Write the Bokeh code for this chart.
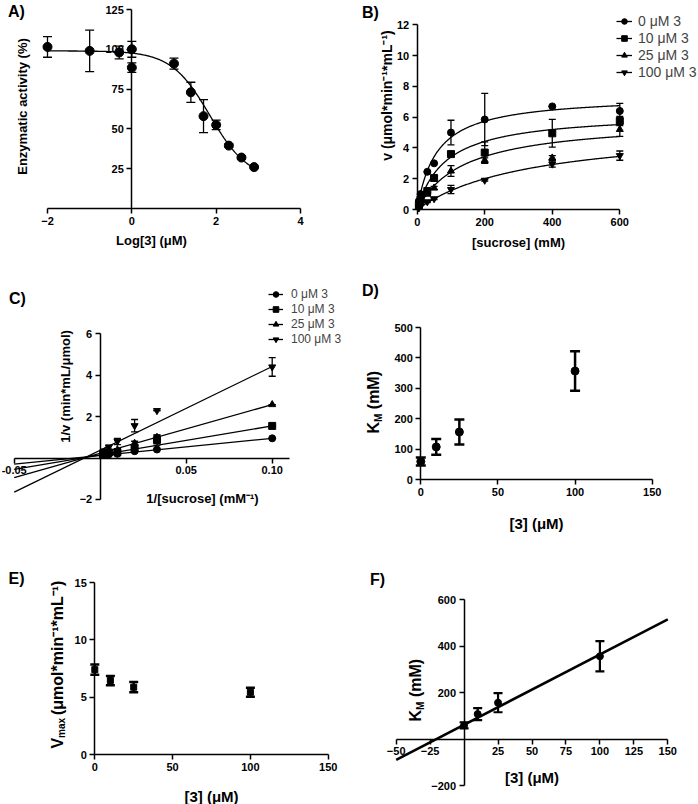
import math
import numpy as np
from bokeh.plotting import figure
from bokeh.models import (Range1d, FixedTicker, Label, Legend, LegendItem,
                          Whisker, TeeHead, ColumnDataSource)
from bokeh.layouts import gridplot
from bokeh.embed import file_html
from bokeh.resources import INLINE

FONT = "Liberation Sans"

# ---------------- data ----------------
# A) dose response
A_LOG_CONC = [-2, -1, -0.3, 0, 0, 1, 1.4, 1.7, 2, 2.3, 2.6, 2.9]
A_ACTIVITY = [101.5, 99, 98, 100, 88.5, 91, 73, 58, 52.5, 39.5, 32, 26]
A_ERR = [6.5, 13, 4, 5, 3, 3.5, 6.3, 10.4, 3, 1, 1, 0.5]
A_FIT_TOP = 99.0
A_FIT_BOTTOM = 18.0
A_FIT_LOGIC50 = 1.85
A_FIT_HILL = 0.95

SERIES_LABELS = ["0 μM 3", "10 μM 3", "25 μM 3", "100 μM 3"]
MARKERS = ["circle", "square", "triangle", "inverted_triangle"]

# B) Michaelis-Menten
B_SUCROSE = [5, 10, 30, 50, 100, 200, 400, 600]
B_V = [
    [0.55, 1.0, 2.45, 3.0, 5.0, 5.85, 6.7, 6.4],
    [0.3, 0.65, 1.2, 2.05, 3.6, 3.7, 4.95, 5.75],
    [0.2, 0.5, 1.0, 1.4, 2.5, 3.2, 3.35, 5.2],
    [0.1, 0.25, 0.5, 0.7, 1.3, 1.9, 2.95, 3.5],
]
B_ERR = [
    [0.05, 0.1, 0.0, 0.0, 0.8, 1.7, 0.0, 0.5],
    [0.0, 0.0, 0.1, 0.1, 0.0, 0.7, 0.9, 0.3],
    [0.0, 0.0, 0.1, 0.1, 0.35, 0.15, 0.15, 0.45],
    [0.0, 0.0, 0.05, 0.05, 0.27, 0.05, 0.2, 0.3],
]
B_FIT_VMAX = [7.4, 6.3, 5.85, 5.41]
B_FIT_KM = [58, 85, 140, 341]

# C) Lineweaver-Burk
C_INV_SUCROSE = [0.0017, 0.0025, 0.005, 0.01, 0.02, 0.033, 0.1]
C_INV_V = [
    [0.16, 0.15, 0.17, 0.2, 0.33, 0.41, 0.95],
    [0.17, 0.2, 0.27, 0.28, 0.49, 0.87, 1.55],
    [0.19, 0.3, 0.31, 0.4, 0.71, 1.0, 2.58],
    [0.29, 0.34, 0.52, 0.8, 1.56, 2.29, 4.4],
]
C_ERR = [
    [0, 0, 0, 0, 0, 0, 0],
    [0, 0, 0, 0, 0, 0.25, 0],
    [0, 0, 0, 0.05, 0.1, 0.1, 0],
    [0, 0, 0.1, 0.15, 0.3, 0, 0.45],
]
C_FIT_X = [-0.05, 0.10]
C_FIT_Y = [[-0.30, 0.95], [-0.55, 1.55], [-0.95, 2.58], [-1.65, 4.42]]

# D/E/F) kinetic constants
INHIBITOR = [0, 10, 25, 100]
KM = [60, 108, 157, 357]
KM_ERR = [13, 26, 41, 65]
VMAX = [7.4, 6.45, 5.87, 5.43]
VMAX_ERR = [0.45, 0.4, 0.45, 0.4]
F_FIT_X = [-50, 150]
F_FIT_Y = [-89, 516]


# ---------------- helpers ----------------
class Geo:
    """Maps global page pixels to the data space of one panel."""
    def __init__(self, ox, oy, w, h, xa, xav, xb, xbv, ya, yav, yb, ybv):
        self.ox, self.oy, self.w, self.h = ox, oy, w, h
        self.xppu = (xb - xa) / (xbv - xav)
        self.yppu = (ya - yb) / (ybv - yav)
        self.x0 = xav - (xa - ox) / self.xppu
        self.y1 = yav + (ya - oy) / self.yppu

    def X(self, px):
        return self.x0 + (px - self.ox) / self.xppu

    def Y(self, py):
        return self.y1 - (py - self.oy) / self.yppu


def make_fig(g):
    p = figure(width=g.w, height=g.h,
               x_range=Range1d(g.X(g.ox), g.X(g.ox + g.w)),
               y_range=Range1d(g.Y(g.oy + g.h), g.Y(g.oy)),
               output_backend="svg", toolbar_location=None, min_border=0)
    p.outline_line_color = None
    p.xgrid.visible = False
    p.ygrid.visible = False
    p.background_fill_color = "white"
    p.border_fill_color = "white"
    return p


def style_axis(ax, ticks, bounds, loc, overrides=None, lw=1.5, fs=11):
    ax.fixed_location = loc
    ax.ticker = FixedTicker(ticks=ticks)
    ax.bounds = bounds
    ax.axis_line_width = lw
    ax.axis_line_color = "black"
    ax.major_tick_line_width = lw
    ax.major_tick_line_color = "black"
    ax.major_tick_out = 5
    ax.major_tick_in = 0
    ax.minor_tick_line_color = None
    ax.major_label_text_font = FONT
    ax.major_label_text_font_style = "bold"
    ax.major_label_text_font_size = f"{fs}px"
    ax.major_label_text_color = "black"
    ax.major_label_standoff = 3
    if overrides:
        ax.major_label_overrides = overrides


def txt(p, g, gx, gy, text, size, bold=True, angle=0.0, align="center",
        baseline="middle"):
    p.add_layout(Label(x=g.X(gx), y=g.Y(gy), text=text, text_font=FONT,
                       text_font_size=f"{size}px",
                       text_font_style="bold" if bold else "normal",
                       angle=angle, text_align=align, text_baseline=baseline,
                       text_color="black"))


def errbars(p, x, y, err, cap=8, lw=1.3):
    src = ColumnDataSource(dict(x=x, lo=[a - e for a, e in zip(y, err)],
                                hi=[a + e for a, e in zip(y, err)]))
    p.add_layout(Whisker(source=src, base="x", upper="hi", lower="lo",
                         line_width=lw, line_color="black",
                         upper_head=TeeHead(size=cap, line_width=lw, line_color="black"),
                         lower_head=TeeHead(size=cap, line_width=lw, line_color="black")))


UP = math.pi / 2

# ---------------- A ----------------
gA = Geo(0, 0, 349, 265, 47, -2, 300, 4, 208, 0, 9, 125)
pA = make_fig(gA)
style_axis(pA.xaxis[0], [-2, 0, 2, 4], (-2, 4), 0)
style_axis(pA.yaxis[0], [25, 50, 75, 100, 125], (0, 125), 0)
xa = np.linspace(-2, 2.9, 300)
ya = A_FIT_BOTTOM + (A_FIT_TOP - A_FIT_BOTTOM) / (1 + 10 ** ((xa - A_FIT_LOGIC50) * A_FIT_HILL))
pA.line(xa, ya, line_color="black", line_width=1.3)
errbars(pA, A_LOG_CONC, A_ACTIVITY, A_ERR, cap=9, lw=1.3)
pA.scatter(A_LOG_CONC, A_ACTIVITY, size=9, color="black")
txt(pA, gA, 16, 11, "A)", 16)
txt(pA, gA, 22, 106, "Enzymatic activity (%)", 13, angle=UP)
txt(pA, gA, 151, 240, "Log[3] (μM)", 13)

# ---------------- B ----------------
gB = Geo(349, 0, 349, 265, 416.7, 0, 619.3, 600, 209, 0, 24.3, 12)
pB = make_fig(gB)
style_axis(pB.xaxis[0], [0, 200, 400, 600], (0, 600), 0)
style_axis(pB.yaxis[0], [0, 2, 4, 6, 8, 10, 12], (0, 12), 0)
xb = np.linspace(0, 600, 300)
itemsB = []
for i in range(4):
    lr = pB.line(xb, B_FIT_VMAX[i] * xb / (B_FIT_KM[i] + xb), line_color="black", line_width=1.3)
    errbars(pB, B_SUCROSE, B_V[i], B_ERR[i], cap=7, lw=1.3)
    sr = pB.scatter(B_SUCROSE, B_V[i], marker=MARKERS[i], size=7, color="black")
    itemsB.append(LegendItem(label=SERIES_LABELS[i], renderers=[lr, sr]))
legB = Legend(items=itemsB, location=(267, 185), border_line_color=None,
              background_fill_alpha=0, label_text_font=FONT,
              label_text_font_size="14px", glyph_width=16, glyph_height=14,
              label_height=14, spacing=1, padding=0, margin=0, label_standoff=6)
pB.add_layout(legB)
txt(pB, gB, 370, 12, "B)", 16)
txt(pB, gB, 386, 95, "v (μmol*min⁻¹*mL⁻¹)", 14, angle=UP)
txt(pB, gB, 518, 242, "[sucrose] (mM)", 13)

# ---------------- C ----------------
gC = Geo(0, 265, 349, 270, 99.7, 0, 271.7, 0.1, 457.5, 0, 333.3, 6)
pC = make_fig(gC)
style_axis(pC.xaxis[0], [-0.05, 0.05, 0.1], (-0.05, 0.11), 0,
           overrides={-0.05: "-0.05", 0.05: "0.05", 0.1: "0.10"})
style_axis(pC.yaxis[0], [-2, 2, 4, 6], (-2, 6), 0)
itemsC = []
for i in range(4):
    lr = pC.line(C_FIT_X, C_FIT_Y[i], line_color="black", line_width=1.3)
    errbars(pC, C_INV_SUCROSE, C_INV_V[i], C_ERR[i], cap=7, lw=1.3)
    sr = pC.scatter(C_INV_SUCROSE, C_INV_V[i], marker=MARKERS[i], size=7, color="black")
    itemsC.append(LegendItem(label=SERIES_LABELS[i], renderers=[lr, sr]))
legC = Legend(items=itemsC, location=(268, 189), border_line_color=None,
              background_fill_alpha=0, label_text_font=FONT,
              label_text_font_size="12px", glyph_width=15, glyph_height=14,
              label_height=14, spacing=1, padding=0, margin=0, label_standoff=8)
pC.add_layout(legC)
txt(pC, gC, 17, 298, "C)", 16)
txt(pC, gC, 65, 386, "1/v (min*mL/μmol)", 13, angle=UP)
txt(pC, gC, 202, 498, "1/[sucrose] (mM⁻¹)", 13)

# ---------------- D ----------------
gD = Geo(349, 265, 349, 270, 420.3, 0, 651.7, 150, 479.3, 0, 327, 500)
pD = make_fig(gD)
style_axis(pD.xaxis[0], [0, 50, 100, 150], (0, 150), 0)
style_axis(pD.yaxis[0], [0, 100, 200, 300, 400, 500], (0, 500), 0)
errbars(pD, INHIBITOR, KM, KM_ERR, cap=10, lw=2.5)
pD.scatter(INHIBITOR, KM, size=8, color="black")
txt(pD, gD, 370, 290, "D)", 16)
txt(pD, gD, 373, 433, "K", 16, angle=UP, align="left")
txt(pD, gD, 377.5, 421.4, "M", 10, angle=UP, align="left")
txt(pD, gD, 373, 408.7, "(mM)", 16, angle=UP, align="left")
txt(pD, gD, 536, 523, "[3] (μM)", 15)

# ---------------- E ----------------
gE = Geo(0, 535, 349, 269, 94.3, 0, 327.7, 150, 754, 0, 582, 15)
pE = make_fig(gE)
style_axis(pE.xaxis[0], [0, 50, 100, 150], (0, 150), 0)
style_axis(pE.yaxis[0], [0, 5, 10, 15], (0, 15), 0)
errbars(pE, INHIBITOR, VMAX, VMAX_ERR, cap=9, lw=2.5)
pE.scatter(INHIBITOR, VMAX, marker="square", size=6, color="black")
txt(pE, gE, 16, 578, "E)", 16)
txt(pE, gE, 57, 748, "V", 16, angle=UP, align="left")
txt(pE, gE, 61, 737.5, "max", 10, angle=UP, align="left")
txt(pE, gE, 57, 714.5, "(μmol*min⁻¹*mL⁻¹)", 16, angle=UP, align="left")
txt(pE, gE, 211, 796, "[3] (μM)", 15)

# ---------------- F ----------------
gF = Geo(349, 535, 349, 269, 395.7, -50, 667.3, 150, 738.7, 0, 599.3, 600)
pF = make_fig(gF)
style_axis(pF.xaxis[0], [-50, -25, 25, 50, 75, 100, 125, 150], (-50, 150), 0)
style_axis(pF.yaxis[0], [-200, 200, 400, 600], (-200, 600), 0)
pF.line(F_FIT_X, F_FIT_Y, line_color="black", line_width=2.5)
errbars(pF, INHIBITOR, KM, KM_ERR, cap=9, lw=2.2)
pF.scatter(INHIBITOR, KM, size=7, color="black")
txt(pF, gF, 377, 579, "F)", 16)
txt(pF, gF, 415, 721, "K", 16, angle=UP, align="left")
txt(pF, gF, 419.5, 709.4, "M", 10, angle=UP, align="left")
txt(pF, gF, 415, 696.6, "(mM)", 16, angle=UP, align="left")
txt(pF, gF, 531.5, 777, "[3] (μM)", 15)

grid = gridplot([[pA, pB], [pC, pD], [pE, pF]], toolbar_location=None)

with open("out.html", "w") as f:
    f.write(file_html(grid, INLINE))
